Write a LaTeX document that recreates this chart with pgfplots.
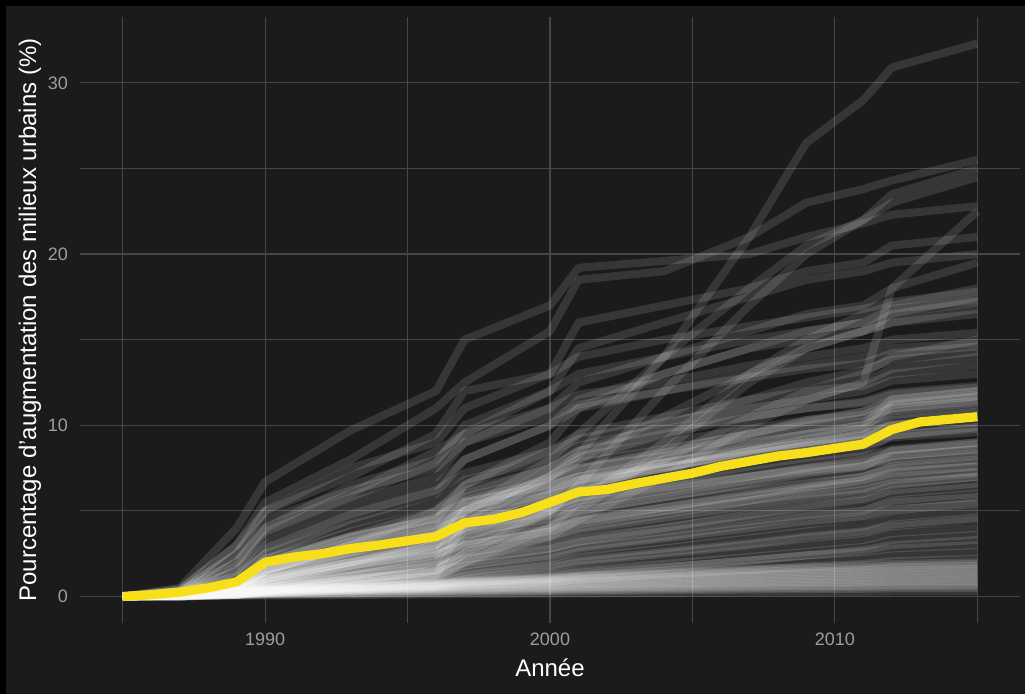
\documentclass[border=0pt]{standalone}
\usepackage{pgfplots}
\usepackage{pgfplotstable}
\pgfplotsset{compat=1.18}
\usepackage{fontspec}
\setmainfont{Liberation Sans}

\definecolor{bgc}{HTML}{1B1B1B}
\definecolor{gridc}{HTML}{464646}
\definecolor{tickc}{HTML}{9E9E9E}
\definecolor{meanc}{RGB}{247,224,26}

% one row per region, one column per year
\pgfplotstableread{
id  1985 1987 1989 1990 1993 1996 1997 2000 2001 2004 2007 2009 2011 2012 2015
s1  0 0.1  0.4  0.8  1.8 3    4.2  7    8.3  14   21   26.5 29   30.9 32.3
s2  0 0.5  4    6.7  9.7 12   15   17   19.2 19.6 20   21   21.8 22.3 22.8
s3  0 0.4  3    5.5  8   11   12.5 15.5 18.5 19   21   23   23.8 24.3 25.5
s4  0 0    0.2  0.4  1   1.5  2.5  5    6.5  12   17   20   22   23.5 25
s5  0 0.1  0.5  1    2.5 4    5    8    9.5  14   18   20.5 22   23   24.5
s6  0 0.1  0.5  1.5  3   4.5  5.5  7    8    9.5  11   11.5 12.5 18   22.5
s7  0 0.3  2.5  5    7.5 9    11   13   16   17   18   19   19.5 20.5 21
s8  0 0.3  2    4    6   8.5  9.5  12   14.5 16   17.5 18.5 19   19.5 20
s9  0 0.2  1.5  3.5  5.5 7    9    11   12.5 14   15.5 16.5 17   18   19.5
s10 0 0.2  1.5  3    5   6.5  8    10   11.5 13   14.5 15.5 16   16.5 17.5
s11 0 0    0.3  0.8  2   3    5    7    8    10.5 13   14.5 15.5 16.5 17.2
s12 0 0.3  2    4    6.5 8    9.5  11   11.8 12.5 13.5 14   14.5 15   15.4
s13 0 0.2  1.2  2.5  4.5 6    8    10   11   12   13   13.5 14   14.5 14.8
s14 0 0    0.2  0.5  1.5 2.5  4.5  7.5  8.5  10   11.5 12.5 13.2 13.8 14.3
s15 0 0.1  0.5  1.5  3   5    6.5  8.5  9.5  10.5 11.5 12   12.3 13   13.5
s16 0 0.1  0.6  2    3.5 5    6    7.5  8.5  9.5  10.5 11   11.3 11.8 12.2
s17 0 0.1  0.5  1.5  2.5 4    5    6.5  7.5  8.5  9.5  10.2 10.8 11.5 12
s18 0 0    0.3  1    2   3    4    6    7    8    9.5  10.3 10.8 11.4 11.8
s19 0 0.1  0.4  1    2   3.5  5    7    7.8  8.6  9.5  10   10.4 11   11.5
s20 0 0.1  0.5  1.5  3   4    4.5  6    6.5  7.5  8.5  9    9.5  10   10.5
s21 0 0    0.1  0.3  0.6 1    2    4    5.5  9    13   15   16.5 17   18
s22 0 0.1  0.4  1    2   3    4    5    5.5  6.3  7    7.5  8    8.5  9
s23 0 0.1  0.3  0.8  1.6 2.5  3.5  4.5  5    5.8  6.6  7.2  7.6  8.2  8.6
s24 0 0.1  0.3  0.7  1.3 2    3    4    4.5  5.2  6    6.5  7    7.6  8
s25 0 0.1  0.3  1    1.8 2.5  3    3.8  4.2  5    5.8  6.3  6.8  7.3  7.6
s26 0 0    0.2  0.5  1   1.5  2.5  3.5  4    4.8  5.6  6.2  6.6  7    7.3
s27 0 0.1  0.2  0.6  1.2 2    2.5  3.3  3.7  4.4  5.2  5.7  6    6.5  7
s28 0 0    0.2  0.4  0.9 1.4  2    2.8  3.2  4    4.8  5.3  5.7  6.2  6.6
s29 0 0.05 0.2  0.5  1   1.5  1.8  2.5  2.9  3.5  4.2  4.7  5    5.6  6
s30 0 0.05 0.15 0.4  0.8 1.2  1.6  2.2  2.6  3.2  3.8  4.2  4.6  5    5.5
s31 0 0.05 0.15 0.3  0.7 1    1.4  2    2.3  2.8  3.4  3.8  4.1  4.6  5
s32 0 0.05 0.1  0.3  0.6 0.9  1.2  1.7  2    2.5  3    3.4  3.7  4.1  4.5
s33 0 0.05 0.1  0.3  0.5 0.8  1.1  1.5  1.8  2.2  2.7  3    3.3  3.7  4
s34 0 0    0.1  0.2  0.5 0.7  1    1.3  1.5  1.9  2.3  2.6  2.9  3.3  3.6
s35 0 0    0.1  0.2  0.4 0.6  0.8  1.1  1.3  1.7  2.1  2.4  2.7  3    3.3
s36 0 0.05 0.15 0.25 0.5 0.7  0.9  1.2  1.4  1.7  2.1  2.4  2.6  2.8  3
s37 0 0.05 0.12 0.2  0.4 0.6  0.8  1    1.2  1.5  1.8  2    2.2  2.4  2.6
s38 0 0.04 0.1  0.18 0.35 0.5 0.65 0.85 1    1.3  1.55 1.75 1.9  2.05 2.2
s39 0 0.14 0.3  0.4  0.6 0.8  0.9  1.1  1.2  1.4  1.6  1.7  1.8  1.9  2.0
s40 0 0.13 0.29 0.38 0.57 0.76 0.86 1.05 1.14 1.33 1.52 1.62 1.71 1.8 1.9
s41 0 0.13 0.27 0.36 0.54 0.72 0.81 0.99 1.08 1.26 1.44 1.53 1.62 1.71 1.8
s42 0 0.12 0.26 0.34 0.51 0.68 0.77 0.94 1.02 1.19 1.36 1.45 1.53 1.62 1.7
s43 0 0.11 0.24 0.32 0.48 0.64 0.72 0.88 0.96 1.12 1.28 1.36 1.44 1.52 1.6
s44 0 0.1  0.23 0.3  0.45 0.6 0.68 0.83 0.9  1.05 1.2  1.28 1.35 1.43 1.5
s45 0 0.1  0.21 0.28 0.42 0.56 0.63 0.77 0.84 0.98 1.12 1.19 1.26 1.33 1.4
s46 0 0.09 0.2  0.26 0.39 0.52 0.59 0.72 0.78 0.91 1.04 1.1 1.17 1.24 1.3
s47 0 0.08 0.18 0.24 0.36 0.48 0.54 0.66 0.72 0.84 0.96 1.02 1.08 1.14 1.2
s48 0 0.08 0.17 0.22 0.33 0.44 0.5 0.61 0.66 0.77 0.88 0.94 0.99 1.05 1.1
s49 0 0.07 0.15 0.2  0.3 0.4  0.45 0.55 0.6  0.7  0.8  0.85 0.9  0.95 1
s50 0 0.06 0.14 0.18 0.27 0.36 0.41 0.5 0.54 0.63 0.72 0.77 0.81 0.86 0.9
s51 0 0.06 0.12 0.16 0.24 0.32 0.36 0.44 0.48 0.56 0.64 0.68 0.72 0.76 0.8
s52 0 0.05 0.11 0.14 0.21 0.28 0.32 0.39 0.42 0.49 0.56 0.6 0.63 0.67 0.7
s53 0 0.04 0.09 0.12 0.18 0.24 0.27 0.33 0.36 0.42 0.48 0.51 0.54 0.57 0.6
s54 0 0.04 0.08 0.1  0.15 0.2  0.23 0.28 0.3  0.35 0.4  0.43 0.45 0.48 0.5
s55 0 0.02 0.05 0.06 0.09 0.12 0.14 0.17 0.18 0.21 0.24 0.26 0.27 0.29 0.3
s56 0 0.1  0.5  1.5  3   4    5    6.5  7    8    9    9.5  10   11.5 12
s57 0 0.1  0.4  1.2  2.5 3.5  4.5  6    6.5  7.5  8.5  9.2  9.8  11.2 11.7
s58 0 0.2  0.8  2.2  3.5 4.5  5.5  6.5  7    7.8  8.6  9    9.4  10.6 11
s59 0 0    0.2  0.4  0.8 1.2  4.5  6    6.5  7.5  8.5  9    9.5  10   10.5
s60 0 0    0.1  0.3  0.8 1.5  2.5  4    5    8.5  12.5 14.5 15.5 16   16.8
s61 0 0.1  0.6  1.5  2.8 3.5  5.5  6.5  7    7.8  8.5  9    9.3  9.8  10.2
s62 0 0.1  0.8  2    3.5 4.5  5.8  7    7.5  8.2  9    9.5  9.8  10.3 10.8
s63 0 0.1  0.5  1.2  2.2 3    4.2  5.5  6.2  7.2  8    8.5  8.8  9.3  9.6
s64 0 0.05 0.3  0.8  1.8 2.6  3.8  5    5.6  6.5  7.3  7.8  8.2  8.6  9
s65 0 0.2  1    2.5  4.2 5.5  6.8  8    8.8  9.8  10.5 11   11.4 11.9 12.3
s66 0 0.1  0.4  1    2   3.2  4    5    6.5  7.8  8.8  9.5  10   10.8 11.3
s67 0 0.05 0.3  0.7  1.5 2.2  3.8  4.5  5    5.8  6.5  7    7.3  7.8  8.2
s68 0 0.1  0.6  1.6  2.7 3.6  4.5  5.2  5.8  6.4  7    7.4  7.7  8    8.4
s69 0 0.1  0.7  1.8  3.2 4.2  5    6    6.8  7.6  8.3  8.8  9.1  9.4  9.8
s70 0 0.2  1.2  2.8  4.8 6.2  7.2  8.5  9.2  10.2 11   11.5 12   12.6 13
s71 0 0.05 0.2  0.5  1.2 2    3.5  4.8  5.4  6.2  7    7.5  7.8  8.2  8.6
s72 0 0.1  0.4  1    1.8 2.5  3    3.8  4.4  5.2  5.9  6.4  6.8  7.2  7.6
s73 0 0.1  0.5  1.2  2.2 2.8  3.3  4.2  4.7  5.5  6.2  6.6  7    7.5  7.9
s74 0 0.05 0.3  0.6  1.3 1.8  2.3  3    3.4  4    4.7  5.2  5.6  6    6.4
s75 0 0.05 0.2  0.5  1   1.5  2.8  3.5  3.9  4.6  5.3  5.8  6.2  6.6  7
s76 0 0.1  0.5  1.1  2   2.7  3.6  4.7  5.2  6    6.8  7.3  7.6  8.5  8.9
s77 0 0.1  0.8  2.2  3.8 5    6.2  7.5  8.2  9    9.8  10.3 10.6 11.3 11.7
s78 0 0.1  0.6  1.4  2.6 3.4  4    5.2  5.8  6.7  7.6  8.1  8.5  9.4  9.9
s79 0 0.05 0.25 0.6  1.2 1.7  2.2  2.8  3.2  3.8  4.4  4.8  5.1  5.5  5.8
s80 0 0.05 0.2  0.4  0.9 1.3  1.8  2.4  2.8  3.4  4    4.4  4.7  5.1  5.4
s81 0 0.3  2.5  4.5  6.2 7.5  9    10.5 11.2 12   12.8 13.3 13.6 14.2 14.6
s82 0 0.2  1.8  3.8  5.8 7.8  10   12   13   14   15   15.5 16   16.8 17.3
s83 0 0.1  0.6  1.5  3   4.5  6.5  9    11   13   14.5 15   15.5 16   16.5
s84 0 0.4  3    5    7   9.5  12   13   14   15   15.8 16.3 16.8 17.2 17.8
s85 0 0.05 0.2  0.5  1.2 2    3    5    6    8    10.5 12   13   14   15
s86 0 0    0.1  0.3  0.8 1.2  2    3.5  4.5  7    10   11.5 12.5 13.3 14
s87 0 0.1  0.5  1.3  2.6 3.8  5.2  6.3  6.8  7.5  8.3  8.8  9.2  10   10.5
s88 0 0.1  0.3  0.9  1.7 2.4  3.2  4    4.4  5    5.6  6    6.3  6.8  7.2
s89 0 0.05 0.15 0.35 0.7 1    1.3  1.8  2.1  2.6  3.1  3.5  3.8  4.2  4.6
s90 0 0.1  0.7  2    3.4 4.6  5.6  6.8  7.4  8.4  9.3  9.8  10.2 11   11.4
}\raw
\pgfplotstabletranspose[colnames from=id, input colnames to=year]{\data}{\raw}

% mean of all regions
\pgfplotstableread{
year mean
1985 0
1986 0.1
1987 0.25
1988 0.5
1989 0.85
1990 2.0
1991 2.3
1992 2.5
1993 2.8
1994 3.0
1995 3.25
1996 3.5
1997 4.3
1998 4.5
1999 4.9
2000 5.5
2001 6.1
2002 6.25
2003 6.6
2004 6.9
2005 7.2
2006 7.6
2007 7.9
2008 8.2
2009 8.4
2010 8.65
2011 8.9
2012 9.75
2013 10.2
2014 10.35
2015 10.5
}\meantab

\pgfplotsset{
  gl/.style={draw=white, draw opacity=0.12, line width=4pt,
    line join=round, line cap=butt, mark=none, forget plot},
}

\begin{document}
\begin{tikzpicture}
  \fill[bgc] (0,0) rectangle (512.5pt,347pt);
  \fill[black] (0,344pt) rectangle (512.5pt,347pt);
  \fill[black] (0,0) rectangle (3pt,347pt);
  \begin{axis}[
    at={(40pt,35.5pt)}, anchor=south west,
    scale only axis, width=470pt, height=303pt,
    xmin=1983.5, xmax=2016.5,
    ymin=-1.55, ymax=33.85,
    axis line style={draw=none},
    tick style={draw=none},
    xtick={1990,2000,2010}, minor xtick={1985,1995,2005,2015},
    ytick={0,10,20,30}, minor ytick={5,15,25},
    grid=both,
    major grid style={gridc, line width=0.6pt},
    minor grid style={gridc, line width=0.6pt},
    /pgf/number format/assume math mode=true,
    /pgf/number format/1000 sep={},
    xticklabel style={text=tickc, font=\fontsize{9}{10}\selectfont, yshift=-1.5pt},
    yticklabel style={text=tickc, font=\fontsize{9}{10}\selectfont, xshift=-2.5pt},
    xlabel={Année},
    ylabel={Pourcentage d'augmentation des milieux urbains (\%)},
    xlabel style={at={(axis description cs:0.5,-0.0743)}, anchor=center,
      text=white, font=\fontsize{12}{14}\selectfont},
    ylabel style={at={(axis description cs:-0.0532,0.5)}, anchor=center,
      text=white, font=\fontsize{12}{14}\selectfont},
  ]
    \pgfplotsinvokeforeach{1,...,90}{
      \addplot[gl] table[x=year, y=s#1] {\data};
    }
    \addplot[meanc, line width=4.6pt, line join=round, line cap=butt, mark=none]
      table[x=year, y=mean] {\meantab};
  \end{axis}
  \pgfresetboundingbox
  \useasboundingbox (0,0) rectangle (512.5pt,347pt);
\end{tikzpicture}
\end{document}
